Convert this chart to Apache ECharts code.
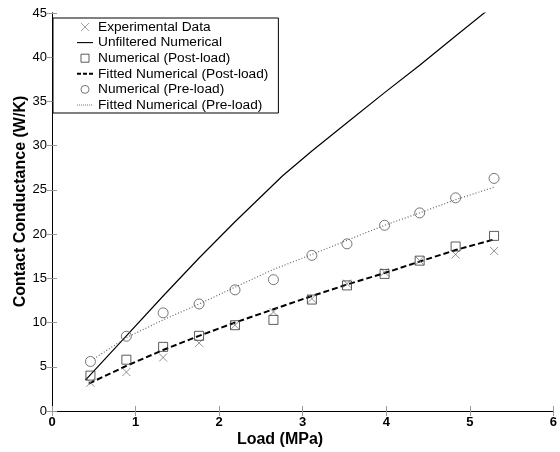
<!DOCTYPE html>
<html><head><meta charset="utf-8">
<script src="https://cdn.jsdelivr.net/npm/echarts@6/dist/echarts.min.js"></script>
<style>html,body{margin:0;padding:0;background:#fff}#c{width:560px;height:452px}</style>
</head><body><div id="c"></div>
<script>
// Load values (MPa) of measured / numerical points
const loads = [0.46, 0.89, 1.33, 1.76, 2.19, 2.65, 3.11, 3.53, 3.98, 4.40, 4.83, 5.29];
const experimental = [3.2, 4.4, 6.05, 7.7, 9.7, 11.2, 12.7, 14.4, 15.7, 17.0, 17.7, 18.1];
const numPost = [4.0, 5.8, 7.25, 8.5, 9.7, 10.3, 12.6, 14.2, 15.5, 17.0, 18.6, 19.8];
const numPre = [5.6, 8.45, 11.1, 12.1, 13.7, 14.85, 17.6, 18.9, 21.0, 22.4, 24.1, 26.3];
// Unfiltered numerical curve
const unfiltX = [0.40, 0.89, 1.33, 1.76, 2.19, 2.76, 3.11, 3.53, 3.98, 4.40, 4.83, 5.29];
const unfiltY = [3.5, 8.5, 13.0, 17.3, 21.4, 26.6, 29.4, 32.6, 36.0, 39.1, 42.4, 45.9];
// Fitted curves
const fitPostX = [0.44, 0.89, 1.33, 1.76, 2.19, 2.65, 3.11, 3.53, 3.98, 4.40, 4.83, 5.29];
const fitPostY = [3.1, 5.1, 6.9, 8.5, 10.0, 11.5, 13.0, 14.3, 15.6, 16.9, 18.2, 19.4];
const fitPreX = [0.50, 0.89, 1.33, 1.76, 2.19, 2.65, 3.11, 3.53, 3.98, 4.40, 4.83, 5.29];
const fitPreY = [5.9, 8.3, 10.3, 12.1, 14.0, 16.0, 17.7, 19.3, 21.0, 22.4, 23.9, 25.3];
const xTicks = [0, 1, 2, 3, 4, 5, 6];
const yTicks = [0, 5, 10, 15, 20, 25, 30, 35, 40, 45];
const names = ['Experimental Data', 'Unfiltered Numerical', 'Numerical (Post-load)',
  'Fitted Numerical (Post-load)', 'Numerical (Pre-load)', 'Fitted Numerical (Pre-load)'];

const pairs = (xs, ys) => xs.map((x, i) => [x, ys[i]]);
const FONT = 'Liberation Sans, Arial, sans-serif';
const tickStyle = { inside: true, length: 5, lineStyle: { color: '#999', width: 1 } };
const axisLineStyle = { show: true, lineStyle: { color: '#000', width: 1 } };

// legend icons
const solidIcon = 'path://M0,0L16,0L16,1.1L0,1.1Z';
const dashIcon = 'path://M0,0L4,0L4,2L0,2ZM6,0L10,0L10,2L6,2ZM12,0L16,0L16,2L12,2Z';
let dotPath = 'path://';
for (let i = 0; i < 8; i++) { const a = i * 2; dotPath += 'M' + a + ',0L' + (a + 1) + ',0L' + (a + 1) + ',1L' + a + ',1Z'; }
dotPath += 'M15.9,0L16,0L16,1L15.9,1Z';
const squareIcon = 'path://M0,0L10,0L10,10L0,10Z';
const crossIcon = 'path://M0,0L10,10M10,0L0,10';

const chart = echarts.init(document.getElementById('c'), null, { renderer: 'canvas' });
chart.setOption({
  animation: false,
  backgroundColor: '#fff',
  grid: { left: 52, right: 5, top: 13, bottom: 41, containLabel: false },
  xAxis: [{
    type: 'value', min: xTicks[0], max: xTicks[xTicks.length - 1], interval: 1,
    axisLine: axisLineStyle, axisTick: tickStyle, splitLine: { show: false },
    axisLabel: { color: '#000', fontFamily: FONT, fontWeight: 'bold', fontSize: 13, margin: 5 }
  }, {
    type: 'value', position: 'top', min: xTicks[0], max: xTicks[xTicks.length - 1], interval: 1,
    axisLine: axisLineStyle, axisTick: tickStyle, splitLine: { show: false }, axisLabel: { show: false }
  }],
  yAxis: [{
    type: 'value', min: yTicks[0], max: yTicks[yTicks.length - 1], interval: 5,
    axisLine: axisLineStyle, axisTick: tickStyle, splitLine: { show: false },
    axisLabel: { color: '#000', fontFamily: FONT, fontSize: 13, margin: 5 }
  }, {
    type: 'value', position: 'right', min: yTicks[0], max: yTicks[yTicks.length - 1], interval: 5,
    axisLine: axisLineStyle, axisTick: tickStyle, splitLine: { show: false }, axisLabel: { show: false }
  }],
  graphic: [{
    type: 'text', left: 'center', top: 432,
    style: { text: 'Load (MPa)', font: 'bold 16px ' + FONT, fill: '#000' }
  }, {
    type: 'text', x: 21, y: 201.5, rotation: Math.PI / 2,
    style: { text: 'Contact Conductance (W/K)', font: 'bold 16px ' + FONT, fill: '#000',
             align: 'center', verticalAlign: 'middle' }
  }],
  legend: {
    orient: 'vertical', left: 53, top: 18,
    backgroundColor: '#fff', borderColor: '#000', borderWidth: 1,
    padding: [2, 10, 1, 24], itemGap: 1.6, itemWidth: 16, itemHeight: 8,
    textStyle: { fontFamily: FONT, fontSize: 13.7, color: '#000', lineHeight: 14 },
    data: [
      { name: names[0], icon: crossIcon, itemStyle: { color: 'transparent', borderColor: '#888', borderWidth: 1 } },
      { name: names[1], icon: solidIcon, itemStyle: { color: '#000', borderWidth: 0 } },
      { name: names[2], icon: squareIcon, itemStyle: { color: 'transparent', borderColor: '#333', borderWidth: 1 } },
      { name: names[3], icon: dashIcon, itemStyle: { color: '#000', borderWidth: 0 } },
      { name: names[4], icon: 'circle', itemStyle: { color: 'transparent', borderColor: '#555', borderWidth: 1 } },
      { name: names[5], icon: dotPath, itemStyle: { color: '#777', borderWidth: 0 } }
    ]
  },
  series: [{
    name: names[0], type: 'scatter', data: pairs(loads, experimental),
    symbol: crossIcon, symbolSize: 8,
    itemStyle: { color: 'transparent', borderColor: '#777', borderWidth: 1 }, z: 3
  }, {
    name: names[1], type: 'line', data: pairs(unfiltX, unfiltY), symbol: 'none',
    lineStyle: { color: '#000', width: 1.2 }, itemStyle: { color: '#000' }, clip: true
  }, {
    name: names[2], type: 'scatter', data: pairs(loads, numPost),
    symbol: 'rect', symbolSize: 9,
    itemStyle: { color: 'transparent', borderColor: '#333', borderWidth: 1 }, z: 3
  }, {
    name: names[3], type: 'line', data: pairs(fitPostX, fitPostY), symbol: 'none',
    lineStyle: { color: '#000', width: 2, type: [6, 3] }, itemStyle: { color: '#000' }
  }, {
    name: names[4], type: 'scatter', data: pairs(loads, numPre),
    symbol: 'circle', symbolSize: 10,
    itemStyle: { color: 'transparent', borderColor: '#555', borderWidth: 1 }, z: 3
  }, {
    name: names[5], type: 'line', data: pairs(fitPreX, fitPreY), symbol: 'none',
    lineStyle: { color: '#666', width: 1.2, type: [1, 2] }, itemStyle: { color: '#666' }
  }]
});
</script>
</body></html>
